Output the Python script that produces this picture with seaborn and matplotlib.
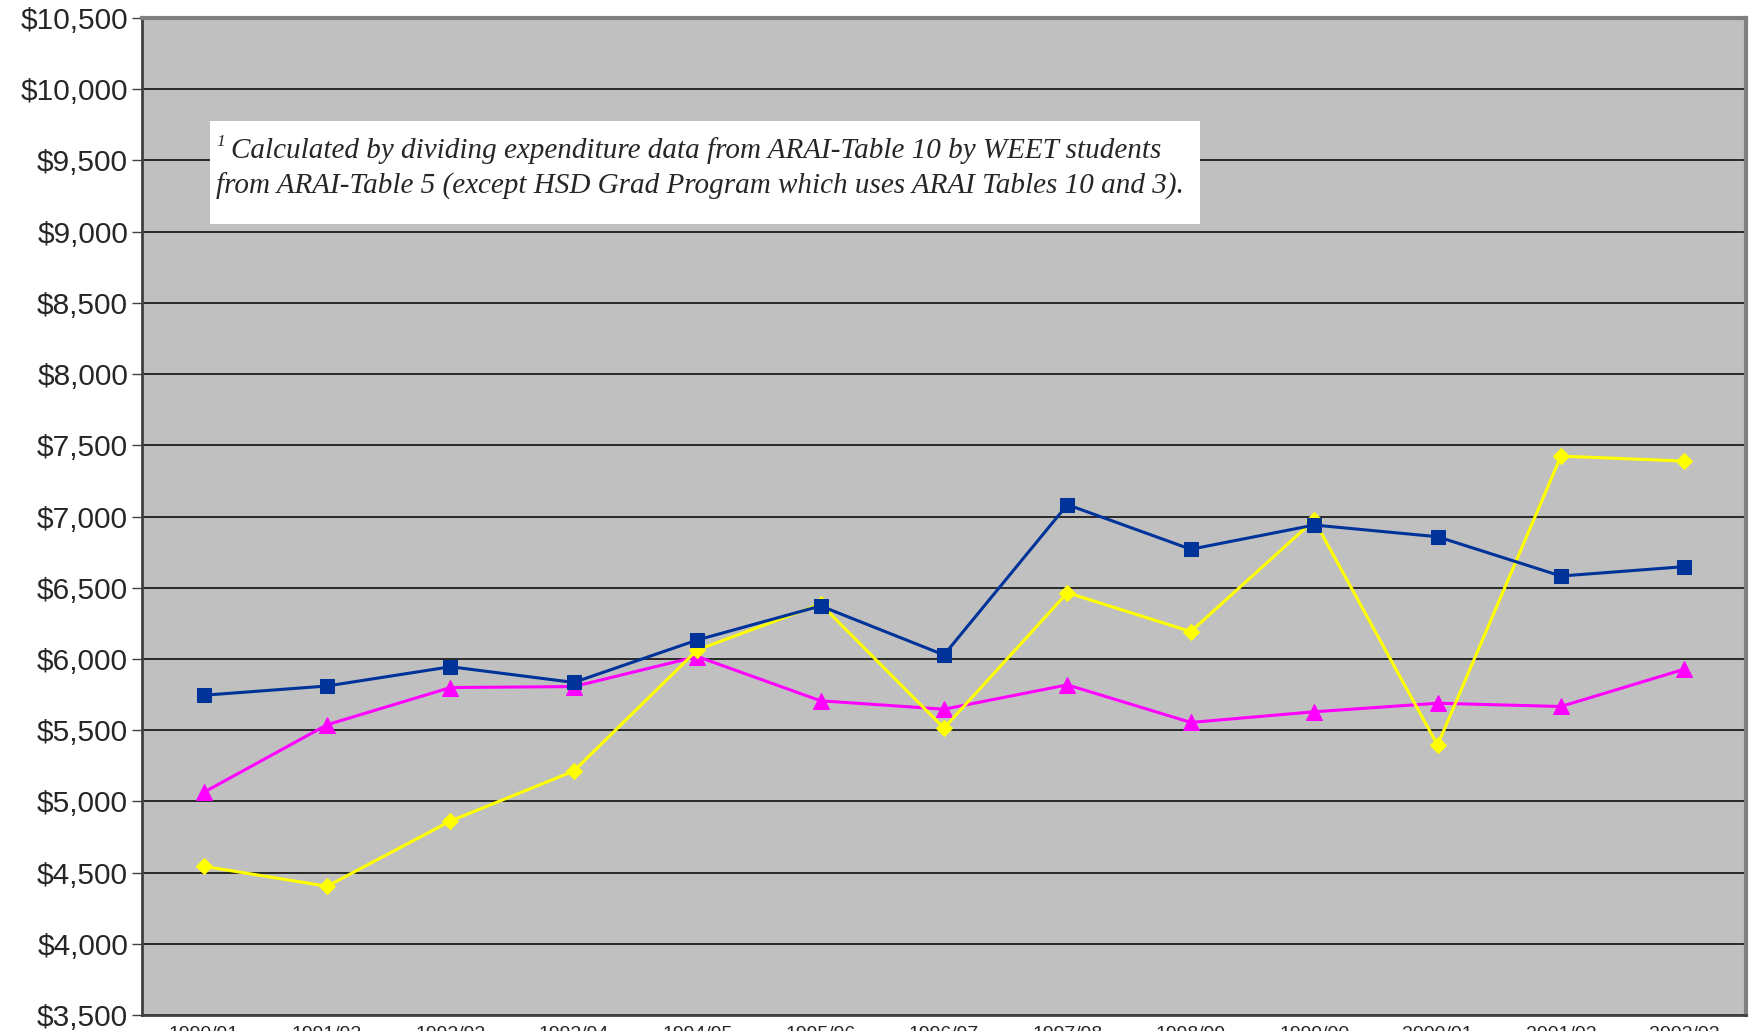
import matplotlib
matplotlib.use("Agg")
import matplotlib.pyplot as plt
import matplotlib.ticker as mticker
from matplotlib.patches import Rectangle
import numpy as np
import pandas as pd
import seaborn as sns

# data
years = ["1990/91", "1991/92", "1992/93", "1993/94", "1994/95", "1995/96", "1996/97",
         "1997/98", "1998/99", "1999/00", "2000/01", "2001/02", "2002/03"]
series_a = [5745, 5810, 5945, 5835, 6133, 6372, 6028, 7083, 6770, 6940, 6858, 6582, 6648]
series_b = [4544, 4404, 4862, 5213, 6063, 6385, 5514, 6465, 6192, 6975, 5395, 7424, 7389]
series_c = [5063, 5538, 5799, 5806, 6017, 5706, 5647, 5818, 5554, 5629, 5689, 5666, 5928]

y_ticks = list(range(3500, 11000, 500))

note_line1 = "Calculated by dividing expenditure data from ARAI-Table 10 by WEET students"
note_line2 = "from ARAI-Table 5 (except HSD Grad Program which uses ARAI Tables 10 and 3)."

df = pd.DataFrame({
    "year": years * 3,
    "cost": series_a + series_b + series_c,
    "series": ["A"] * 13 + ["B"] * 13 + ["C"] * 13,
})

sns.set_style("white")
plt.rcParams["font.family"] = ["Liberation Sans", "DejaVu Sans"]

fig = plt.figure(figsize=(17.54, 10.31), dpi=100)
ax = fig.add_axes([142 / 1754, 16 / 1031, (1746 - 142) / 1754, (1015 - 18) / 1031])
ax.set_facecolor("#c0c0c0")

styles = {
    "A": dict(color="#003399", marker="s", ms=10),
    "B": dict(color="#ffff00", marker="D", ms=8.5),
    "C": dict(color="#ff00ff", marker="^", ms=11),
}
for name in ["C", "B", "A"]:
    st = styles[name]
    sns.lineplot(data=df[df["series"] == name], x="year", y="cost", sort=False,
                 color=st["color"], marker=st["marker"], markersize=st["ms"],
                 markeredgecolor=st["color"], linewidth=2.2, ax=ax, legend=False,
                 zorder=3)

ax.set_xlim(-0.5, len(years) - 0.5)
ax.set_ylim(3500, 10500)
ax.set_yticks(y_ticks)
ax.yaxis.set_major_formatter(mticker.FuncFormatter(lambda v, p: f"${v:,.0f}"))
ax.grid(axis="y", color="black", linewidth=1.1, zorder=1)
ax.set_axisbelow(True)
ax.set_xlabel("")
ax.set_ylabel("")

ax.set_xticks(range(len(years)))
ax.set_xticklabels(years, fontsize=14)
ax.set_xticks(np.arange(-0.5, len(years), 1.0), minor=True)
ax.tick_params(axis="x", which="major", length=0, pad=8)
ax.tick_params(axis="x", which="minor", length=14, width=1, color="black")
ax.tick_params(axis="y", labelsize=21.5, length=7, width=1, color="#404040", pad=3,
               left=True)

for s in ["left", "bottom"]:
    ax.spines[s].set_color("#404040")
    ax.spines[s].set_linewidth(2)
for s in ["top", "right"]:
    ax.spines[s].set_color("#808080")
    ax.spines[s].set_linewidth(3)

# footnote box
fig.patches.append(Rectangle((210 / 1754, 1 - 224 / 1031), (1200 - 210) / 1754,
                             (224 - 121) / 1031, transform=fig.transFigure,
                             facecolor="white", edgecolor="none", zorder=5))
fig.text(216 / 1754, 1 - 146 / 1031, "1", fontsize=12.5, family="Liberation Serif",
         style="italic", va="baseline", zorder=6)
fig.text(231 / 1754, 1 - 158 / 1031, note_line1, fontsize=21,
         family="Liberation Serif", style="italic", va="baseline", zorder=6)
fig.text(216 / 1754, 1 - 194 / 1031, note_line2, fontsize=21,
         family="Liberation Serif", style="italic", va="baseline", zorder=6)

fig.savefig("out.png", dpi=100)
